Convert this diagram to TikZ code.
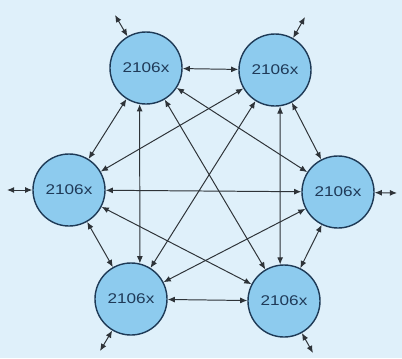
\documentclass[tikz,border=0pt]{standalone}
\usepackage{fontspec}
\usepackage{graphicx}
\setsansfont{Liberation Sans}
\usetikzlibrary{arrows.meta}
\definecolor{bg}{HTML}{DFF0FA}
\definecolor{chipfill}{HTML}{8DCBEE}
\definecolor{rim}{HTML}{1E3A56}
\definecolor{ink}{HTML}{1F3A58}
\definecolor{wire}{HTML}{2E3338}
\newcommand\chiplabel{\scalebox{1.22}[1]{2106x}}
\begin{document}
\begin{tikzpicture}[x=0.025cm,y=-0.025cm,
  chip/.style={circle, draw=rim, fill=chipfill, line width=1pt,
    minimum size=1.8cm, inner sep=0pt, text=ink,
    font=\sffamily\fontsize{10}{12}\selectfont},
  link/.style={draw=wire, line width=0.7pt,
    {Latex[length=1.8mm,width=1.5mm]}-{Latex[length=1.8mm,width=1.5mm]}}]
  % background panel
  \fill[bg] (0,0) rectangle (402,358);
  \useasboundingbox (0,0) rectangle (402,358);

  % six processors on a ring
  \node[chip] (tl) at (146,68)  {\chiplabel};
  \node[chip] (tr) at (275,70)  {\chiplabel};
  \node[chip] (l)  at (69,190)  {\chiplabel};
  \node[chip] (r)  at (338,192) {\chiplabel};
  \node[chip] (bl) at (131,299) {\chiplabel};
  \node[chip] (br) at (284,301) {\chiplabel};

  % free ends of the external links
  \coordinate (tlx) at (115,15);
  \coordinate (trx) at (305,17);
  \coordinate (lx)  at (7,190);
  \coordinate (rx)  at (397,193);
  \coordinate (blx) at (100,351);
  \coordinate (brx) at (313,353);

  % external links
  \draw[link] (tl) -- (tlx);
  \draw[link] (tr) -- (trx);
  \draw[link] (l)  -- (lx);
  \draw[link] (r)  -- (rx);
  \draw[link] (bl) -- (blx);
  \draw[link] (br) -- (brx);

  % every processor linked to every other one
  \draw[link] (tl) -- (tr);
  \draw[link] (tl) -- (l);
  \draw[link] (tl.-100) -- (bl.76);
  \draw[link] (tl) -- (br);
  \draw[link] (tl) -- (r);
  \draw[link] (tr) -- (l);
  \draw[link] (tr) -- (bl);
  \draw[link] (tr.-82) -- (br.96);
  \draw[link] (tr) -- (r);
  \draw[link] (l) -- (r);
  \draw[link] (l) -- (bl);
  \draw[link] (l) -- (br);
  \draw[link] (r) -- (bl);
  \draw[link] (r) -- (br);
  \draw[link] (bl) -- (br);
\end{tikzpicture}
\end{document}
